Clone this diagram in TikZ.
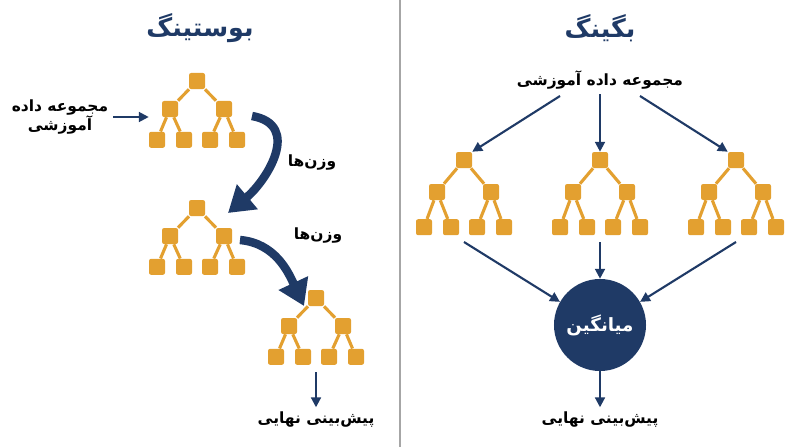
\documentclass[tikz,border=0pt]{standalone}
\usepackage{fontspec}
\newfontfamily\farsi[Script=Arabic]{DejaVu Sans}
\usetikzlibrary{arrows.meta,positioning}
\definecolor{navy}{HTML}{1F3A66}
\definecolor{leafgold}{HTML}{E3A030}
\newcommand{\fa}[1]{{\farsi\beginR #1\endR}}
% tree: name, x, y of root, level gap
\newcommand{\mytree}[4]{%
  \node[tnode] (#1r) at (#2,#3) {};
  \node[tnode] (#1a) at (#2-27,#3+#4) {};
  \node[tnode] (#1b) at (#2+27,#3+#4) {};
  \node[tnode] (#1a1) at (#2-40,#3+2.1*#4) {};
  \node[tnode] (#1a2) at (#2-13,#3+2.1*#4) {};
  \node[tnode] (#1b1) at (#2+13,#3+2.1*#4) {};
  \node[tnode] (#1b2) at (#2+40,#3+2.1*#4) {};
  \draw[tline] (#1r) -- (#1a) (#1r) -- (#1b) (#1a) -- (#1a1) (#1a) -- (#1a2)
    (#1b) -- (#1b1) (#1b) -- (#1b2);
}
\TeXXeTstate=1
\begin{document}
\begin{tikzpicture}
    [x=0.025cm,y=-0.025cm,
        tnode/.style={rectangle,rounded corners=1.5pt,fill=leafgold,minimum size=0.4cm,inner sep=0pt},
        tline/.style={leafgold,line width=2.2pt},
        arr/.style={-{Triangle[length=7pt,width=7pt]},navy,line width=1.5pt},
        bigarr/.style={-{Triangle[length=18pt,width=22pt]},navy,line width=6pt},
        title/.style={font=\farsi\bfseries\fontsize{18}{21}\selectfont,text=navy},
        lbl/.style={font=\farsi\bfseries\fontsize{11}{14}\selectfont,align=center},
    ]
\useasboundingbox (0,0) rectangle (800,447);
\fill[white] (0,0) rectangle (800,447);
\draw[gray!70,line width=0.8pt] (400,0) -- (400,447);
% boosting
\node[title] (tb) at (200,28) {\fa{بوستینگ}};
\mytree{A}{197}{81}{28}
\mytree{B}{197}{208}{28}
\mytree{C}{316}{298}{28}
\node[lbl] (data1) at (60,117) {\fa{مجموعه داده}\\\fa{آموزشی}};
\draw[arr] (data1.east) -- (Aa1.west |- data1.east);
\coordinate (s1) at (252,116);
\coordinate (t1) at (228,213);
\draw[bigarr] (s1) to[out=-10,in=40,looseness=1.3] (t1);
\node[lbl] (w1) at (312,163) {\fa{وزن‌ها}};
\coordinate (s2) at (240,240);
\coordinate (t2) at (304,306);
\draw[bigarr] (s2) to[out=-5,in=115] (t2);
\node[lbl] (w2) at (318,236) {\fa{وزن‌ها}};
\coordinate (c1) at (316,372);
\node[lbl] (p1) at (316,420) {\fa{پیش‌بینی نهایی}};
\draw[arr] (c1) -- (p1.north);
% bagging
\node[title] (tg) at (600,28) {\fa{بگینگ}};
\node[lbl] (data2) at (600,80) {\fa{مجموعه داده آموزشی}};
\mytree{D}{464}{160}{32}
\mytree{E}{600}{160}{32}
\mytree{F}{736}{160}{32}
\coordinate (g1) at (560,96);
\coordinate (g3) at (640,96);
\draw[arr] (g1) -- (Dr.north east);
\draw[arr] (data2.south) -- (Er.north);
\draw[arr] (g3) -- (Fr.north west);
\node[circle,fill=navy,minimum size=2.3cm,font=\farsi\bfseries\fontsize{13}{15}\selectfont,text=white] (avg) at (600,325) {\fa{میانگین}};
\coordinate (d0) at (464,242);
\coordinate (e0) at (600,242);
\coordinate (f0) at (736,242);
\draw[arr] (d0) -- (avg.150);
\draw[arr] (e0) -- (avg.north);
\draw[arr] (f0) -- (avg.30);
\node[lbl] (p2) at (600,420) {\fa{پیش‌بینی نهایی}};
\draw[arr] (avg.south) -- (p2.north);
\end{tikzpicture}
\end{document}
